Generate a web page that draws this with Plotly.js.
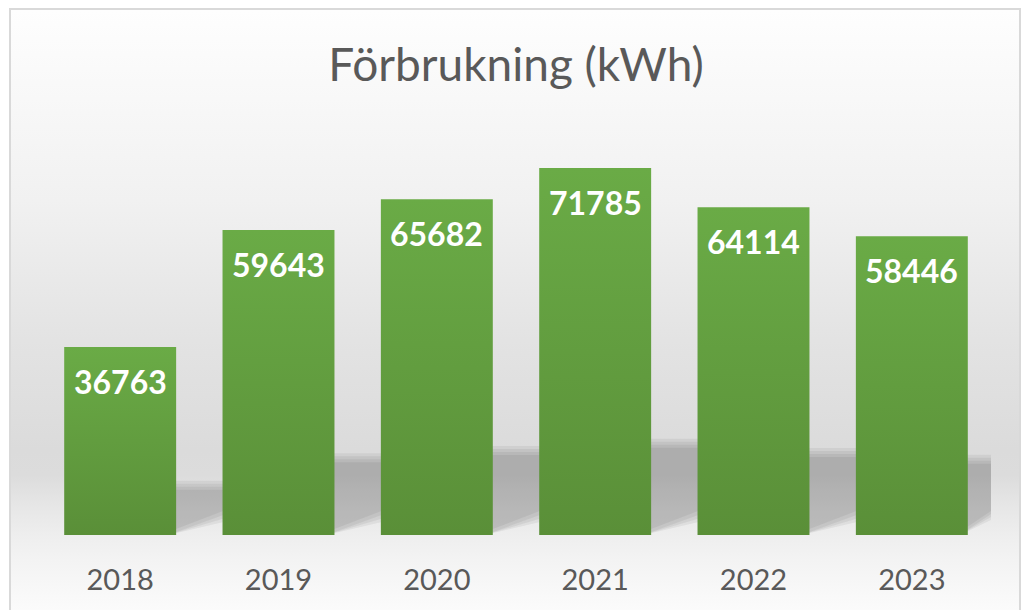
<!DOCTYPE html>
<html>
<head>
<meta charset="utf-8">
<script src="https://cdn.plot.ly/plotly-3.0.1.min.js"></script>
<style>
  html, body { margin: 0; padding: 0; background: #ffffff; overflow: hidden; }
  #frame {
    position: absolute; left: 9px; top: 8px; width: 1012px; height: 620px;
    box-sizing: border-box; border: 2px solid #d9d9d9;
    background: linear-gradient(to bottom, #fefefe 0px, #f1f1f1 190px, #e3e3e3 330px, #dbdbdb 440px, #dcdcdc 465px, #e6e6e6 495px, #eeeeee 525px, #f3f3f3 550px, #fbfbfb 600px);
  }
  #chart { position: absolute; left: 0; top: 0; width: 1022px; height: 610px; }
</style>
</head>
<body>
<div id="frame"></div>
<div id="chart"></div>
<script>
const years = ['2018', '2019', '2020', '2021', '2022', '2023'];
const usage = [36763, 59643, 65682, 71785, 64114, 58446];
const chartTitle = 'Förbrukning (kWh)';

const bargap = 0.293;
const nCat = years.length;
const yMax = 80000;
const toPaperX = v => (v + 0.5) / nCat;

// soft floor shadows cast behind the bars (decorative, derived from index and value)
const shapes = [];
const half = (1 - bargap) / 2;
const pxPerIdx = 950 / nCat;
const pxPerY = 409 / yMax;
const blur = [10, 7, 4, 1];
years.forEach((y, i) => {
  const xr = i + half;
  const topY = usage[i] * 0.235;
  blur.forEach(b => {
    const bi = b / pxPerIdx, by = b / pxPerY;
    const x0 = toPaperX(xr - 0.05);
    const x1 = Math.min(1, toPaperX(xr + 46 / pxPerIdx + bi));
    const t = topY + by;
    const rb = Math.max(0, 25 / pxPerY - by);
    const lb = Math.max(0, 4 / pxPerY - by);
    shapes.push({
      type: 'path', xref: 'paper', yref: 'y', layer: 'below',
      path: `M ${x0},${t} L ${x1},${t} L ${x1},${rb} L ${x0},${lb} Z`,
      fillcolor: '#000000', opacity: 0.055, line: {width: 0}
    });
  });
});

const trace = {
  type: 'bar',
  x: years,
  y: usage,
  marker: { color: '#63a040', line: { width: 0 } },
  hoverinfo: 'x+y'
};

// value labels: x given as category index so the numeric-looking year strings
// are not mistaken for linear positions
const annotations = years.map((yr, i) => ({
  x: i, y: usage[i], xref: 'x', yref: 'y',
  text: '<b>' + usage[i] + '</b>', showarrow: false,
  yanchor: 'middle', yshift: -34,
  font: { family: 'Lato, "Open Sans", sans-serif', size: 32, color: '#ffffff' }
}));

const layout = {
  width: 1022, height: 610,
  margin: { l: 41, r: 31, t: 126, b: 75 },
  paper_bgcolor: 'rgba(0,0,0,0)',
  plot_bgcolor: 'rgba(0,0,0,0)',
  title: {
    text: chartTitle,
    font: { family: 'Lato, "Open Sans", sans-serif', size: 46, color: '#595959' },
    x: 0.5, xref: 'paper', xanchor: 'center',
    y: 0.893, yref: 'container', yanchor: 'middle'
  },
  bargap: bargap,
  showlegend: false,
  xaxis: {
    type: 'category', range: [-0.5, nCat - 0.5], autorange: false,
    showgrid: false, zeroline: false, showline: false, ticks: '',
    ticklabelstandoff: 25,
    tickfont: { family: 'Lato, "Open Sans", sans-serif', size: 29, color: '#595959' },
    fixedrange: true
  },
  yaxis: {
    range: [0, yMax], autorange: false, showticklabels: false, showgrid: false, zeroline: false, showline: false, ticks: '', fixedrange: true
  },
  shapes: shapes,
  annotations: annotations
};

Plotly.newPlot('chart', [trace], layout, { displayModeBar: false }).then(gd => {
  const svg = gd.querySelector('svg.main-svg');
  const ns = 'http://www.w3.org/2000/svg';
  let defs = svg.querySelector('defs');
  if (!defs) { defs = document.createElementNS(ns, 'defs'); svg.insertBefore(defs, svg.firstChild); }
  const grad = document.createElementNS(ns, 'linearGradient');
  grad.setAttribute('id', 'barGradFill');
  grad.setAttribute('x1', '0'); grad.setAttribute('y1', '0');
  grad.setAttribute('x2', '0'); grad.setAttribute('y2', '1');
  [['0%', '#6aab46'], ['100%', '#5a8f38']].forEach(([o, c]) => {
    const s = document.createElementNS(ns, 'stop');
    s.setAttribute('offset', o); s.setAttribute('stop-color', c);
    grad.appendChild(s);
  });
  defs.appendChild(grad);
  gd.querySelectorAll('.barlayer .point path').forEach(p => {
    p.style.fill = 'url(#barGradFill)';
  });
});
</script>
</body>
</html>
